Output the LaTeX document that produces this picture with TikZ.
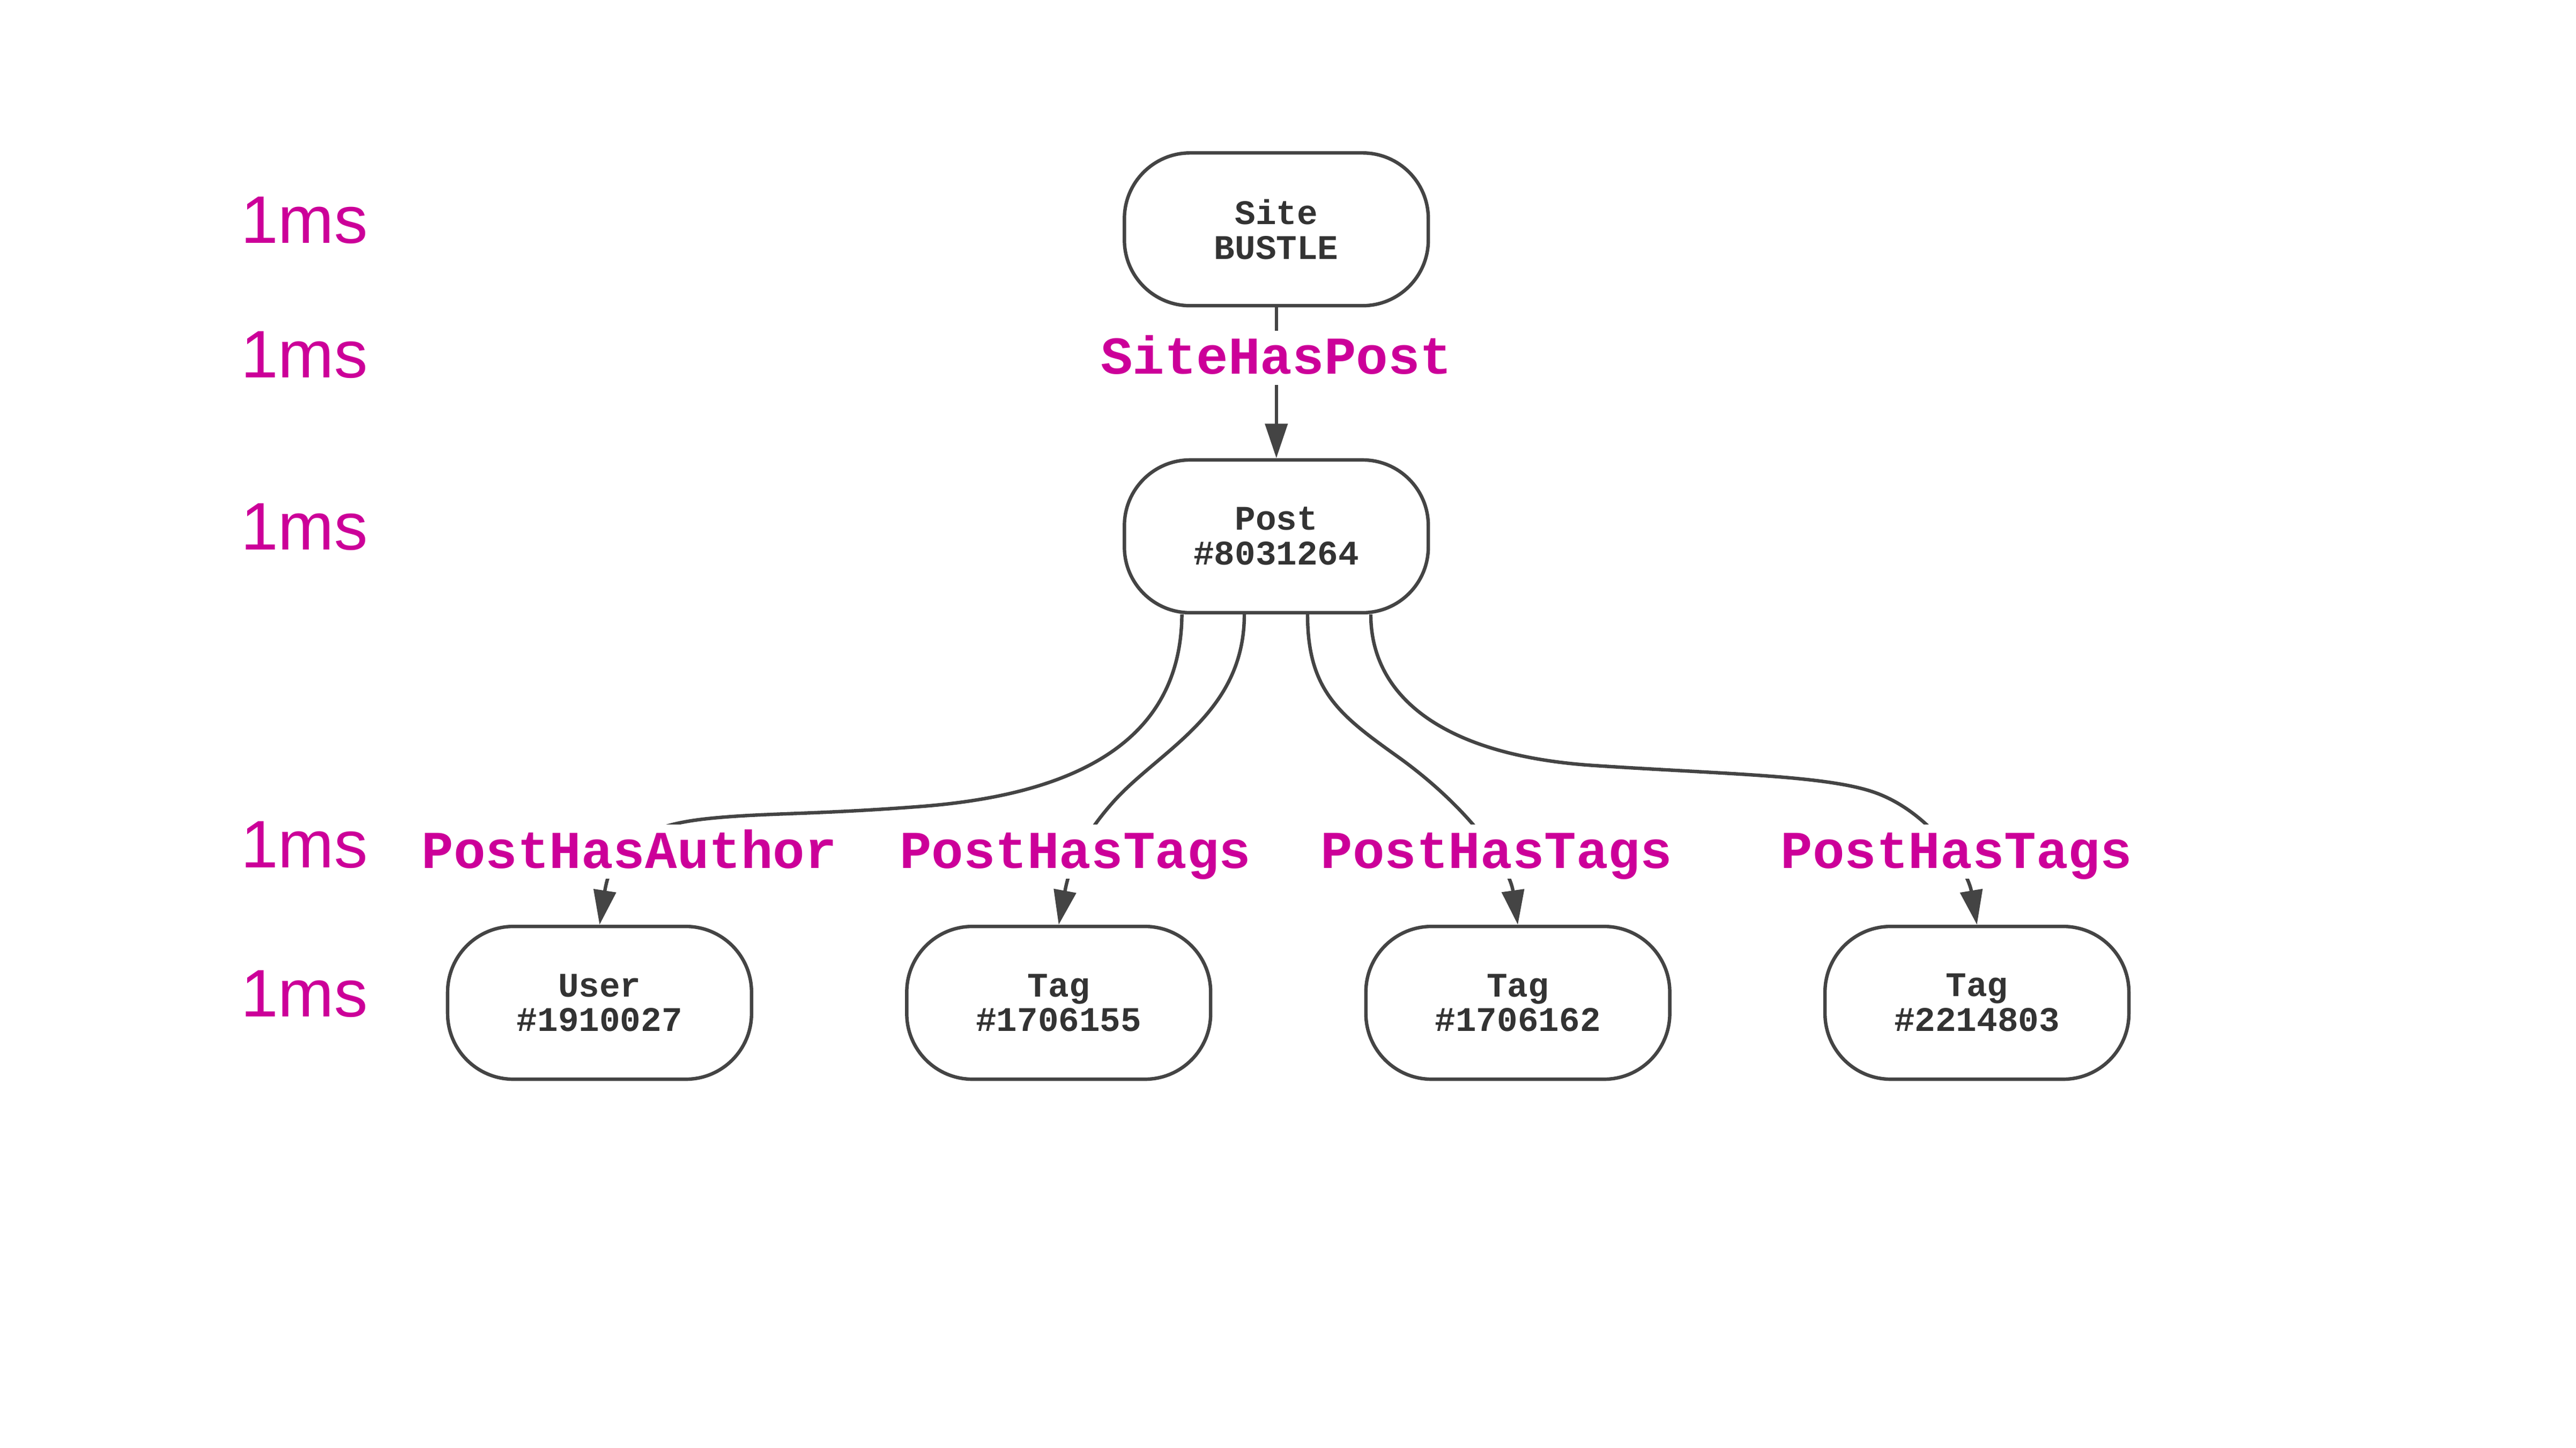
\documentclass[tikz,border=0pt]{standalone}
\usepackage{fontspec}
\setmainfont{Liberation Sans}
\setmonofont{Liberation Mono}
\usetikzlibrary{arrows.meta}
\definecolor{linegray}{HTML}{444444}
\definecolor{textgray}{HTML}{333333}
\definecolor{relpink}{HTML}{CC0099}
\tikzset{
  rec/.style={draw=linegray, line width=0.42mm, rounded corners=8mm,
    minimum width=37mm, minimum height=18.6mm, inner sep=0pt, align=center,
    text=textgray, font=\ttfamily\bfseries\fontsize{11.95pt}{12.07pt}\selectfont},
  rel/.style={fill=white, inner sep=0pt, anchor=base, text=relpink,
    text height=5.28mm, text depth=1.32mm,
    font=\ttfamily\bfseries\fontsize{18.44pt}{20pt}\selectfont},
  ms/.style={anchor=base west, inner sep=0pt, text=relpink,
    font=\fontsize{23.3pt}{26pt}\selectfont},
  edge/.style={draw=linegray, line width=0.42mm,
    -{Triangle[length=4.2mm,width=2.7mm]}}
}
\begin{document}
\begin{tikzpicture}[x=0.2mm,y=-0.2mm]
  \path[use as bounding box,fill=white] (0,0) rectangle (1568.2,881.2);
  \foreach \y [count=\i] in {147.9,230.0,334.7,528.2,619.0}
    \node[ms] (ms\i) at (146.2,\y) {1ms};
  \node[rec] (site) at (777,139.6) {Site\\BUSTLE};
  \node[rec] (post) at (777,326.5) {Post\\\#8031264};
  \node[rec] (user) at (365,610.5) {User\\\#1910027};
  \node[rec] (tagA) at (644.5,610.5) {Tag\\\#1706155};
  \node[rec] (tagB) at (924,610.5) {Tag\\\#1706162};
  \node[rec] (tagC) at (1203.5,610.5) {Tag\\\#2214803};
  \draw[edge] (site) -- (post);
  \draw[edge] ([xshift=-11.5mm]post.south) .. controls (719,445) and (665,483) .. (560,491)
    .. controls (500,495.6) and (470,495) .. (440,497.5)
    .. controls (410,500) and (374,505) .. (user.north);
  \draw[edge] ([xshift=-3.9mm]post.south) .. controls (757.5,435) and (705,457) .. (677,489)
    .. controls (654,515) and (649.7,535) .. (tagA.north);
  \draw[edge] ([xshift=3.8mm]post.south) .. controls (796,420) and (815,435) .. (850,460)
    .. controls (895,492) and (919,528) .. (tagB.north);
  \draw[edge] ([xshift=11.5mm]post.south) .. controls (834.5,425) and (880,460) .. (970,466)
    .. controls (1050,471.3) and (1110,472) .. (1140,482)
    .. controls (1175,493.7) and (1198,530) .. (tagC.north);
  \node[rel] (hasPost) at (777,227.8) {SiteHasPost};
  \node[rel] (hasAuthor) at (383.1,528.4) {PostHasAuthor};
  \node[rel] (hasTagA) at (654.6,528.4) {PostHasTags};
  \node[rel] (hasTagB) at (911,528.4) {PostHasTags};
  \node[rel] (hasTagC) at (1191,528.4) {PostHasTags};
\end{tikzpicture}
\end{document}
